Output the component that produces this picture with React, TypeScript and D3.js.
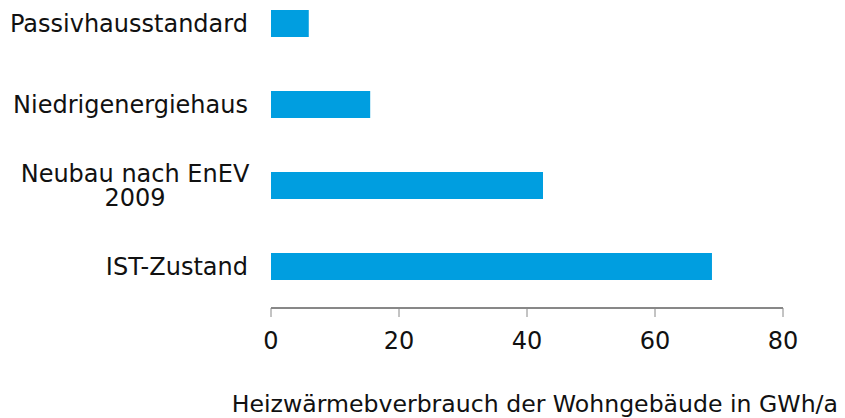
import React from "react";
import * as d3 from "d3";

const categories = ["Passivhausstandard", "Niedrigenergiehaus", "Neubau nach EnEV 2009", "IST-Zustand"];
const categoryLines = [["Passivhausstandard"], ["Niedrigenergiehaus"], ["Neubau nach EnEV", "2009"], ["IST-Zustand"]];
const values = [5.9, 15.5, 42.5, 68.9];
const xTicks = [0, 20, 40, 60, 80];
const axisTitle = "Heizwärmebverbrauch der Wohngebäude in GWh/a";

const W = 845;
const H = 418;
const FONT = "'DejaVu Sans', Verdana, sans-serif";
const FS = 24;

export default function App() {
  const x = d3.scaleLinear().domain([0, 80]).range([271, 783]);
  const y = d3.scaleBand<string>().domain(categories).range([-17, 307]).paddingInner(2 / 3).paddingOuter(1 / 3);
  const axisY = 308;
  return (
    <svg width={W} height={H} style={{ position: "absolute", left: 0, top: 0, background: "#fff" }} fontFamily={FONT}>
      {categories.map((c, i) => {
        const y0 = y(c)!;
        const bh = y.bandwidth();
        const cy = y0 + bh / 2;
        const lines = categoryLines[i];
        const lh = 24;
        const multi = lines.length > 1;
        const tx = multi ? 135 : 248;
        return (
          <g key={c}>
            <rect x={x(0)} y={y0} width={x(values[i]) - x(0)} height={bh} fill="#009ee0" />
            <text
              x={tx}
              y={cy + 8.5 - ((lines.length - 1) / 2) * lh}
              textAnchor={multi ? "middle" : "end"}
              fontSize={FS}
              fill="#111"
            >
              {lines.map((l, j) => (
                <tspan key={j} x={tx} dy={j === 0 ? 0 : lh}>
                  {l}
                </tspan>
              ))}
            </text>
          </g>
        );
      })}
      <line x1={x(0)} x2={x(80)} y1={axisY} y2={axisY} stroke="#111" strokeWidth={1} />
      {xTicks.map((t) => (
        <g key={t}>
          <line x1={x(t)} x2={x(t)} y1={axisY} y2={axisY + 9} stroke="#888" strokeWidth={1} />
          <text x={x(t)} y={349} textAnchor="middle" fontSize={FS} fill="#111">
            {t}
          </text>
        </g>
      ))}
      <text x={838} y={412} textAnchor="end" fontSize={23.6} fill="#111">
        {axisTitle}
      </text>
    </svg>
  );
}
